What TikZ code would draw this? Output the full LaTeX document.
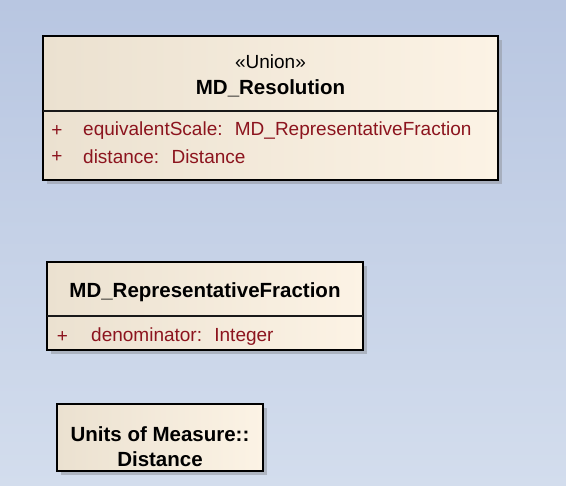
\documentclass[tikz,border=0pt]{standalone}
\usepackage{fontspec}
\setmainfont{Liberation Sans}
\usetikzlibrary{positioning}

\definecolor{bgtop}{RGB}{184,198,225}
\definecolor{bgbottom}{RGB}{211,221,237}
\definecolor{boxtan}{RGB}{235,225,208}
\definecolor{boxcream}{RGB}{252,243,229}
\definecolor{attrred}{RGB}{140,20,30}
\definecolor{shadowgray}{RGB}{150,155,165}

\begin{document}
\begin{tikzpicture}[x=1pt,y=-1pt,
  classbox/.style={draw=black, line width=1.4pt, left color=boxtan, right color=boxcream},
  shadowbox/.style={fill=shadowgray, opacity=0.6},
  divider/.style={draw=black!90, line width=1.3pt},
  title/.style={font=\fontsize{20.5}{24}\selectfont\bfseries, inner sep=0pt, align=center},
  stereo/.style={font=\fontsize{19}{22}\selectfont, inner sep=0pt},
  attr/.style={font=\fontsize{19}{22}\selectfont, text=attrred, inner sep=0pt, anchor=west},
  vis/.style={font=\fontsize{19}{22}\selectfont, text=attrred, inner sep=0pt}]

% background
\fill[top color=bgtop, bottom color=bgbottom] (0,0) rectangle (566,486);

% MD_Resolution
\fill[shadowbox] (47,40) rectangle (502,184);
\draw[classbox] (43,36) rectangle (498,180);
\draw[divider] (43,111) -- (498,111);
\node[stereo] (resStereo) at (270.5,62) {«Union»};
\node[title] (resName) at (270.5,88) {MD\_Resolution};
\node[vis] (resVisA) at (57,131) {+};
\node[attr] (resAttrA) at (83,131) {equivalentScale:~ MD\_RepresentativeFraction};
\node[vis] (resVisB) at (57,157) {+};
\node[attr] (resAttrB) at (83,157) {distance:~ Distance};

% MD_RepresentativeFraction
\fill[shadowbox] (51,266) rectangle (367,354);
\draw[classbox] (47,262) rectangle (363,350);
\draw[divider] (47,316) -- (363,316);
\node[title] (fracName) at (205,292) {MD\_RepresentativeFraction};
\node[vis] (fracVis) at (62.5,337) {+};
\node[attr] (fracAttr) at (91,337) {denominator:~ Integer};

% Units of Measure::Distance
\fill[shadowbox] (61,408) rectangle (267,475);
\draw[classbox] (57,404) rectangle (263,471);
\node[title] (distName) at (160,434) {Units of Measure::};
\node[title] (distNameB) at (160,459) {Distance};

\end{tikzpicture}
\end{document}
